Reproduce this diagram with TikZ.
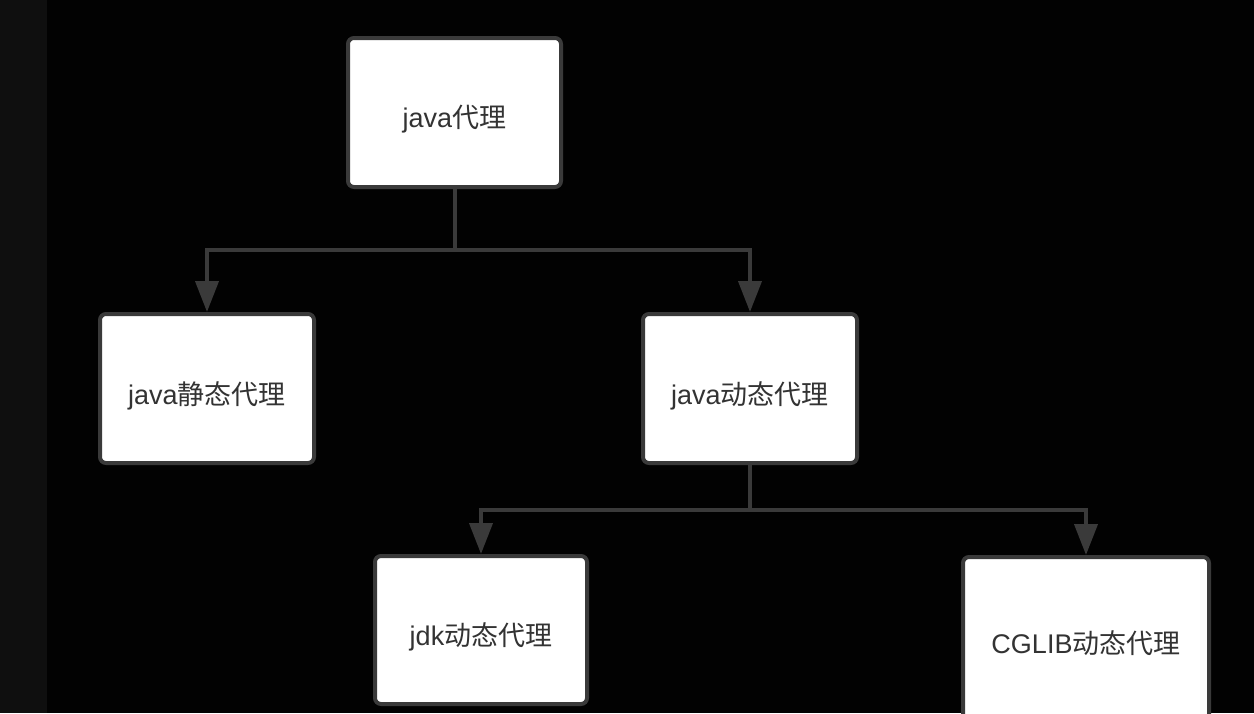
\documentclass[tikz,border=0pt]{standalone}
\usepackage{fontspec}
\setmainfont{Liberation Sans}
\newfontfamily\cjk{Noto Sans CJK SC}
\usetikzlibrary{arrows.meta}
\definecolor{bgc}{HTML}{020202}
\definecolor{stripc}{HTML}{0F0F0F}
\definecolor{linec}{HTML}{3A3A3A}
\definecolor{textc}{HTML}{333333}
\newcommand{\lowtext}[1]{\raisebox{-7pt}[\height][\depth]{#1}}
\tikzset{
  box/.style={draw=linec, fill=white, line width=4pt, rounded corners=6pt,
    inner sep=0pt, text=textc, font=\fontsize{27}{30}\selectfont},
  conn/.style={draw=linec, line width=4pt, -{Triangle[length=31pt,width=23pt]}},
  plainconn/.style={draw=linec, line width=4pt},
}
\begin{document}
\begin{tikzpicture}[x=1pt,y=-1pt]
\useasboundingbox (0,0) rectangle (1254,713);
\fill[bgc] (0,0) rectangle (1254,713);
\fill[stripc] (0,0) rectangle (47,713);
\begin{scope}
\clip (0,0) rectangle (1254,713);
\node[box, minimum width=213pt, minimum height=149pt] (top) at (454.5,112.5) {\lowtext{java{\cjk 代理}}};
\node[box, minimum width=214pt, minimum height=149pt] (static) at (207,388.5) {\lowtext{java{\cjk 静态代理}}};
\node[box, minimum width=214pt, minimum height=149pt] (dyn) at (750,388.5) {\lowtext{java{\cjk 动态代理}}};
\node[box, minimum width=212pt, minimum height=148pt] (jdk) at (481,630) {\lowtext{jdk{\cjk 动态代理}}};
\node[box, minimum width=246pt, minimum height=172pt] (cglib) at (1086,643) {CGLIB{\cjk 动态代理}};
\coordinate (j1) at (454.5,250);
\coordinate (j2) at (750,510);
\draw[plainconn] (top.south) -- (j1);
\draw[conn] (j1) -| (static.north);
\draw[conn] (j1) -| (dyn.north);
\draw[plainconn] (dyn.south) -- (j2);
\draw[conn] (j2) -| (jdk.north);
\draw[conn] (j2) -| (cglib.north);
\end{scope}
\end{tikzpicture}
\end{document}
